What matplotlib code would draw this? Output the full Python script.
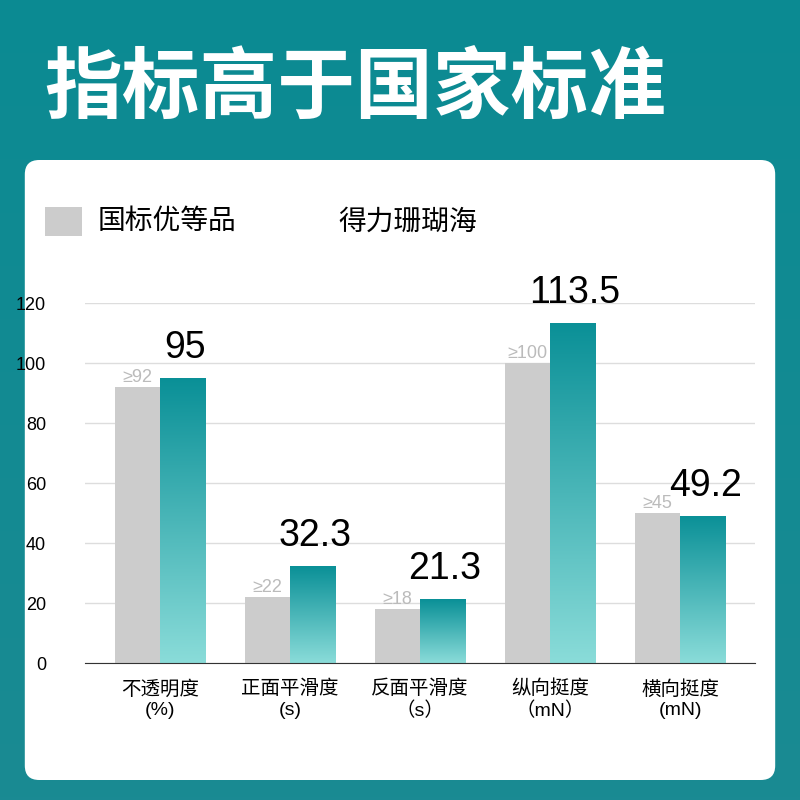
import numpy as np
import matplotlib.pyplot as plt
from matplotlib.patches import FancyBboxPatch, Rectangle
from matplotlib.colors import LinearSegmentedColormap

plt.rcParams['font.family'] = ['Liberation Sans', 'Noto Sans CJK SC', 'DejaVu Sans']

categories = ["不透明度\n(%)", "正面平滑度\n(s)", "反面平滑度\n（s）", "纵向挺度\n（mN）", "横向挺度\n(mN)"]
standard = [92, 22, 18, 100, 50]
standard_labels = ["≥92", "≥22", "≥18", "≥100", "≥45"]
product = [95, 32.3, 21.3, 113.5, 49.2]
product_labels = ["95", "32.3", "21.3", "113.5", "49.2"]
yticks = [0, 20, 40, 60, 80, 100, 120]

fig = plt.figure(figsize=(8, 8), dpi=100)
bg = fig.add_axes([0, 0, 1, 1])
bg.set_axis_off()
bg.imshow(np.linspace(0, 1, 256).reshape(-1, 1), cmap=LinearSegmentedColormap.from_list("bg", ["#1a8a93", "#0b8a92"]),
          origin="lower", extent=[0, 1, 0, 1], aspect="auto")
bg.add_patch(FancyBboxPatch((0.031, 0.025), 0.938, 0.775, boxstyle="round,pad=0,rounding_size=0.018",
                            facecolor="white", edgecolor="none"))
bg.text(0.055, 0.888, "指标高于国家标准", color="white", fontsize=56, fontweight="bold", va="center",
        family=['Noto Sans CJK SC', 'DejaVu Sans'])

# legend
bg.add_patch(Rectangle((0.056, 0.705), 0.046, 0.036, facecolor="#cccccc"))
bg.text(0.122, 0.722, "国标优等品", fontsize=20, va="center")
grad = LinearSegmentedColormap.from_list("teal", ["#8adcd9", "#0a9097"])
bg.imshow(np.linspace(0, 1, 256).reshape(-1, 1), cmap=grad, origin="lower",
          extent=[0.357, 0.403, 0.705, 0.741], aspect="auto")
bg.text(0.423, 0.722, "得力珊瑚海", fontsize=20, va="center")
bg.set_xlim(0, 1)
bg.set_ylim(0, 1)

ax = fig.add_axes([0.106, 0.171, 0.838, 0.45])
x = np.arange(len(categories))
w = 0.346
ax.bar(x - w / 2, standard, w, color="#cccccc", zorder=2)
for xi, v in zip(x, product):
    bar = ax.bar(xi + w / 2, v, w, color="none", zorder=2)[0]
    im = ax.imshow(np.linspace(0, 1, 256).reshape(-1, 1), cmap=grad, origin="lower",
                   extent=[xi, xi + w, 0, v], aspect="auto", zorder=2)
    im.set_clip_path(bar)
for xi, v, t in zip(x, standard, standard_labels):
    ax.text(xi - w / 2, v + 0.5, t, ha="center", va="bottom", fontsize=13, color="#bbbbbb", zorder=3)
for xi, v, t in zip(x, product, product_labels):
    ax.text(xi + w / 2 + 0.02, v + 4, t, ha="center", va="bottom", fontsize=27, color="black", zorder=3, clip_on=False)
ax.set_xlim(-0.577, 4.577)
ax.set_ylim(0, 120)
ax.set_yticks(yticks)
ax.set_xticks(x)
ax.set_xticklabels(categories, fontsize=14, linespacing=1.25)
ax.tick_params(axis="y", labelsize=13, length=0, pad=28)
ax.tick_params(axis="x", length=0, pad=12)
ax.grid(axis="y", color="#dddddd", linewidth=1, zorder=0)
for s in ["top", "right", "left"]:
    ax.spines[s].set_visible(False)
ax.spines["bottom"].set_color("#333333")
ax.set_facecolor("none")

fig.savefig("out.png", dpi=100)
